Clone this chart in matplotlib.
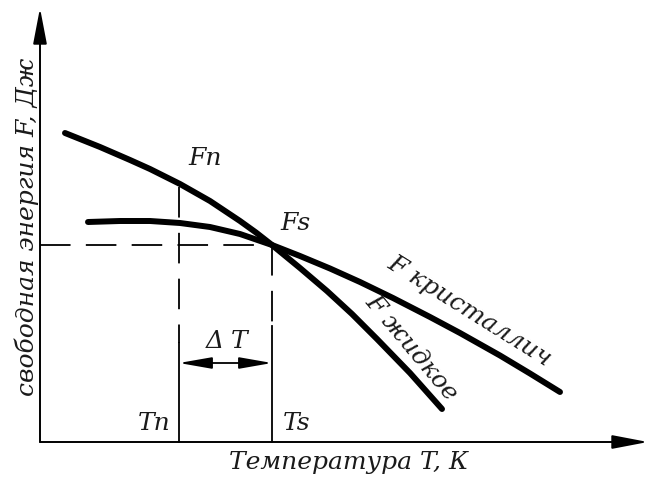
import matplotlib
matplotlib.use("Agg")
import matplotlib.pyplot as plt

# Free energy vs temperature: liquid and crystal branches
T_liquid = [25, 60, 90, 110, 140, 170, 200, 216, 232, 260, 287, 312, 337, 370, 402]
F_liquid = [309, 295, 282, 273, 258, 241, 221, 209.5, 197, 174, 151, 128, 103, 69, 33]

T_crystal = [48, 80, 110, 140, 170, 200, 232, 260, 290, 320, 353, 390, 420, 460, 490, 520]
F_crystal = [220, 221, 221, 219, 215, 208, 197, 186, 173.5, 160, 144, 125, 109, 86.5, 68.5, 50]

T_n = 139          # supercooling temperature
T_s = 232          # equilibrium temperature
F_s = 197          # free energy at the crossing point
F_n = 258          # liquid free energy at T_n
dT_level = 79      # height of the ΔT dimension arrow

x_axis_end = 608
y_axis_end = 434

plt.rcParams['lines.scale_dashes'] = False
font = dict(family='DejaVu Serif', style='italic', color='#1a1a1a')

fig = plt.figure(figsize=(6.52, 4.79), dpi=100)
ax = fig.add_axes([0, 0, 1, 1])
ax.set_xlim(-40, 612)
ax.set_ylim(-37, 442)
ax.axis('off')

# coordinate axes with arrowheads
arrow = dict(arrowstyle='-|>,head_length=2.2,head_width=0.42', lw=1.4,
             color='black', shrinkA=0, shrinkB=0)
ax.annotate('', xy=(x_axis_end, 0), xytext=(0, 0), arrowprops=arrow)
ax.annotate('', xy=(0, y_axis_end), xytext=(0, 0), arrowprops=arrow)

# curves
ax.plot(T_liquid, F_liquid, color='black', lw=4.3,
        solid_capstyle='round', solid_joinstyle='round')
ax.plot(T_crystal, F_crystal, color='black', lw=4.3,
        solid_capstyle='round', solid_joinstyle='round')

# dashed guides
dash = (0, (22, 11))
ax.plot([0, T_s], [F_s, F_s], color='black', lw=1.3, linestyle=dash)
ax.plot([T_n, T_n], [F_n - 3, 99], color='black', lw=1.3, linestyle=dash)
ax.plot([T_s, T_s], [F_s, 116], color='black', lw=1.3, linestyle=dash)
ax.plot([T_n, T_n], [0, 99], color='black', lw=1.3)
ax.plot([T_s, T_s], [0, 116], color='black', lw=1.3)

# ΔT dimension arrow
ax.annotate('', xy=(T_s, dT_level), xytext=(T_n, dT_level),
            arrowprops=dict(arrowstyle='<|-|>,head_length=2.0,head_width=0.35',
                            lw=1.3, color='black', shrinkA=0, shrinkB=0))

fs = 18
ax.text(165, 284, 'Fn', fontsize=fs, ha='center', va='center', **font)
ax.text(256, 219, 'Fs', fontsize=fs, ha='center', va='center', **font)
ax.text(114, 18, 'Tn', fontsize=fs, ha='center', va='center', **font)
ax.text(257, 18, 'Ts', fontsize=fs, ha='center', va='center', **font)
ax.text(187, 101, 'Δ T', fontsize=fs, ha='center', va='center', **font)
ax.text(429, 131, 'F кристаллич', fontsize=fs, rotation=-32,
        ha='center', va='center', rotation_mode='anchor', **font)
ax.text(371, 94, 'F жидкое', fontsize=fs, rotation=-50,
        ha='center', va='center', rotation_mode='anchor', **font)
ax.text(309, -20, 'Температура T, К', fontsize=fs, ha='center', va='center', **font)
ax.text(-13, 215, 'свободная энергия F, Дж', fontsize=fs, rotation=90,
        ha='center', va='center', **font)

fig.savefig('out.png', dpi=100)
